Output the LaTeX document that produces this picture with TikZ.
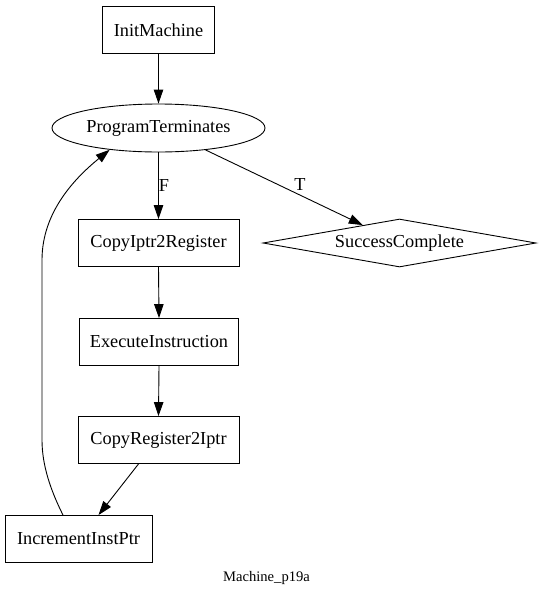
\documentclass[tikz,border=0pt]{standalone}
\usepackage{fontspec}
\setmainfont{Liberation Serif}
\usetikzlibrary{arrows.meta,shapes.geometric,calc}
\begin{document}
\begin{tikzpicture}[x=1pt,y=-1pt,
  every node/.style={font=\fontsize{18.3}{20}\selectfont, inner sep=0pt},
  box/.style={draw, line width=0.9pt, rectangle, minimum height=47pt},
  oval/.style={draw, line width=0.9pt, ellipse, minimum width=213pt, minimum height=48pt},
  rhomb/.style={draw, line width=0.9pt, diamond, aspect=5.7, minimum width=273pt, minimum height=48pt},
  edge/.style={draw, line width=0.9pt, -{Triangle[length=14pt,width=9.5pt]}},
  lbl/.style={font=\fontsize{18.3}{20}\selectfont},
  caption/.style={font=\fontsize{14.6}{16}\selectfont}]
\useasboundingbox (0,0) rectangle (541,595);

\node[box, minimum width=112pt] (init) at (158.5,30) {InitMachine};
\node[oval] (prog) at (158.5,128) {ProgramTerminates};
\node[box, minimum width=161pt] (cir) at (158.5,243) {CopyIptr2Register};
\node[rhomb] (succ) at (399.5,243) {SuccessComplete};
\node[box, minimum width=159pt] (exec) at (159,342) {ExecuteInstruction};
\node[box, minimum width=161pt] (cri) at (158.5,440) {CopyRegister2Iptr};
\node[box, minimum width=147pt] (inc) at (78.5,539) {IncrementInstPtr};
\node[caption] (cap) at (266.5,578) {Machine\_p19a};

\draw[edge] (init.south) -- (prog.north);
\draw[edge] (prog.south) -- (cir.north);
\node[lbl] (f) at (164,186) {F};
\draw[edge] (prog.335) -- (succ.154);
\node[lbl] (t) at (300,185) {T};
\draw[edge] (cir.south) -- (exec.north);
\draw[edge] (exec.south) -- (cri.north);
\draw[edge] ($(cri.south)+(-20,0)$) -- ($(inc.north)+(20,0)$);
\draw[edge] ($(inc.north)+(-15.5,0)$)
  .. controls ($(inc.north)+(-28,-25)$) and ($(inc.north)+(-36.5,-50)$) .. ($(inc.north)+(-36.5,-75)$)
  -- (42,260)
  .. controls (42,212) and (75,178) .. (prog.204);
\end{tikzpicture}
\end{document}
